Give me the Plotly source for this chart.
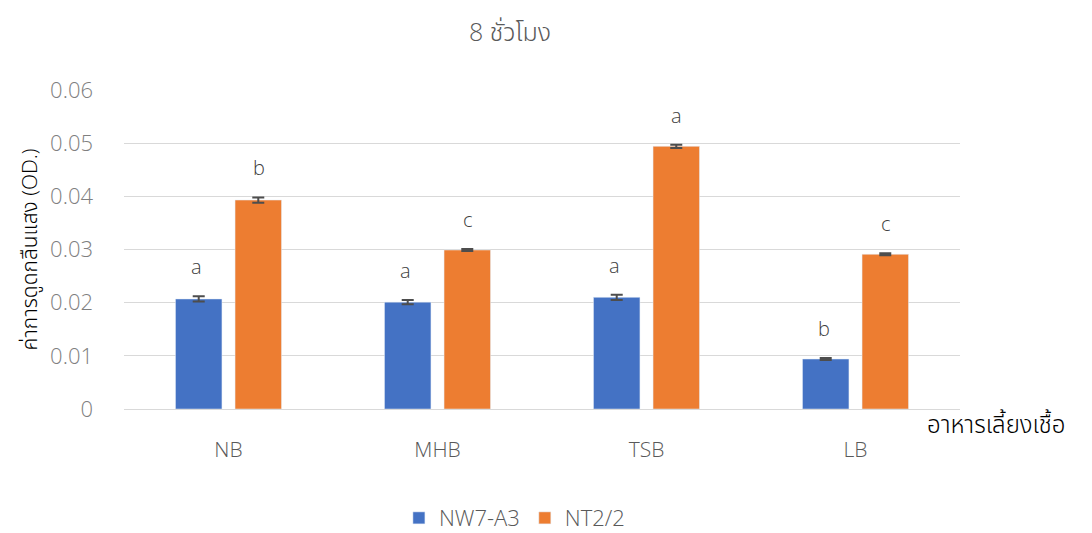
import plotly.graph_objects as go

categories = ["NB", "MHB", "TSB", "LB"]
nw7_a3 = [0.0207, 0.0201, 0.0210, 0.0094]
nw7_a3_err = [0.0005, 0.0004, 0.0005, 0.0002]
nw7_a3_letters = ["a", "a", "a", "b"]
nt2_2 = [0.0393, 0.0299, 0.0494, 0.0291]
nt2_2_err = [0.0005, 0.0002, 0.0003, 0.0002]
nt2_2_letters = ["b", "c", "a", "c"]

FONT = "Open Sans, Noto Sans Thai, Noto Sans, sans-serif"
GRAY = "#595959"

fig = go.Figure()
fig.add_trace(go.Bar(
    name="NW7-A3", x=categories, y=nw7_a3, marker_color="#4472C4",
    error_y=dict(type="data", array=nw7_a3_err, color="#4d4d4d", thickness=2, width=6),
))
fig.add_trace(go.Bar(
    name="NT2/2", x=categories, y=nt2_2, marker_color="#ED7D31",
    error_y=dict(type="data", array=nt2_2_err, color="#4d4d4d", thickness=2, width=6),
))

# significance letters above each bar
for i, c in enumerate(categories):
    fig.add_annotation(x=c, y=nw7_a3[i] + nw7_a3_err[i], text=nw7_a3_letters[i],
                       xshift=-32, yshift=14, yanchor="bottom", showarrow=False,
                       font=dict(size=20, color="#404040", family=FONT, weight=300))
    fig.add_annotation(x=c, y=nt2_2[i] + nt2_2_err[i], text=nt2_2_letters[i],
                       xshift=30, yshift=14, yanchor="bottom", showarrow=False,
                       font=dict(size=20, color="#404040", family=FONT, weight=300))

fig.add_annotation(xref="paper", yref="paper", x=0.958, y=0.012, xanchor="left",
                   yanchor="top", text="อาหารเลี้ยงเชื้อ", showarrow=False,
                   font=dict(size=24, color="#000000", family=FONT, weight=300))

fig.update_layout(
    width=1092, height=533,
    margin=dict(l=124, r=132, t=90, b=124, autoexpand=False),
    paper_bgcolor="white", plot_bgcolor="white",
    barmode="group", bargap=0.43, bargroupgap=0.22,
    font=dict(family=FONT, color=GRAY, size=20, weight=300),
    title=dict(text="8 ชั่วโมง", x=0.467, xanchor="center", y=0.94, yanchor="middle",
               font=dict(size=25, color=GRAY, family=FONT, weight=300)),
    legend=dict(orientation="h", x=0.467, xanchor="center",
                yref="container", y=0.028, yanchor="middle",
                font=dict(size=22, color=GRAY, weight=300), itemwidth=30),
    showlegend=True,
)
fig.update_yaxes(range=[0, 0.06],
                 tickvals=[0, 0.01, 0.02, 0.03, 0.04, 0.05, 0.06],
                 ticktext=["0", "0.01", "0.02", "0.03", "0.04", "0.05", "0.06"],
                 showgrid=True, gridcolor="#d9d9d9", gridwidth=1,
                 zeroline=True, zerolinecolor="#d9d9d9", zerolinewidth=1,
                 tickfont=dict(size=22, color="#7f7f7f", weight=300), ticks="",
                 ticklabelstandoff=30,
                 title=dict(text="ค่าการดูดกลืนแสง (OD.)", standoff=6,
                            font=dict(size=21, color="#000000", family=FONT, weight=300)))
fig.update_xaxes(showline=False, tickfont=dict(size=21, color=GRAY, weight=300), ticks="",
                 ticklabelstandoff=26)

fig.write_html("out.html")
